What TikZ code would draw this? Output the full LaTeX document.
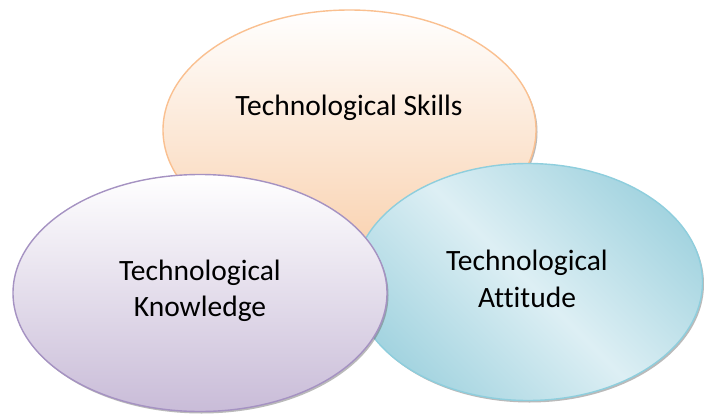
\documentclass[tikz,border=0pt]{standalone}
\usepackage{fontspec}
\setmainfont{Carlito}[Ligatures=NoCommon]
\usetikzlibrary{shapes.geometric,shadows}
\definecolor{orline}{HTML}{FAC090}
\definecolor{orfill}{HTML}{F9D2B0}
\definecolor{puline}{HTML}{A592C2}
\definecolor{pufill}{HTML}{C9BCD8}
\definecolor{blline}{HTML}{8ECEDD}
\definecolor{bldark}{HTML}{A4D4E0}
\definecolor{bllight}{HTML}{DDEFF4}
\tikzset{
  bubble/.style={ellipse, line width=1.4pt, inner sep=0pt,
    drop shadow={opacity=0.45, shadow xshift=1.5pt, shadow yshift=-2pt, fill=black!60}},
  label text/.style={font=\fontsize{29.5}{36.5}\selectfont, align=center, text=black}
}
\begin{document}
\begin{tikzpicture}[x=1pt,y=-1pt]
\useasboundingbox (0,0) rectangle (704,415);
\fill[white] (0,0) rectangle (704,415);
% orange
\node[bubble, draw=orline, top color=white, bottom color=orfill,
  minimum width=373pt, minimum height=240pt] (skills) at (349.5,130) {};
% blue
\node[bubble, draw=blline, left color=bldark, right color=bldark, middle color=bllight, shading angle=-45,
  minimum width=349pt, minimum height=237pt] (attitude) at (528,282) {};
% purple
\node[bubble, draw=puline, top color=white, bottom color=pufill,
  minimum width=374pt, minimum height=237pt] (knowledge) at (200,293) {};
\node[label text] (tskills) at (349,108) {Technological Skills};
\node[label text] (tknow) at (200,291) {Technological\\Knowledge};
\node[label text] (tatt) at (527,279) {Technological\\Attitude};
\end{tikzpicture}
\end{document}
